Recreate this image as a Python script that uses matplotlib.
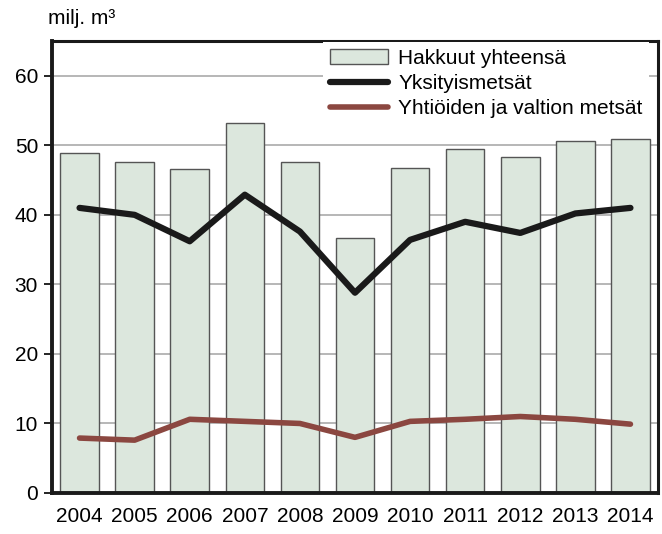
import numpy as np
import matplotlib.pyplot as plt

plt.rcParams['font.family'] = ['Liberation Sans', 'DejaVu Sans']

years = ['2004', '2005', '2006', '2007', '2008', '2009',
         '2010', '2011', '2012', '2013', '2014']
total = [48.9, 47.6, 46.6, 53.2, 47.6, 36.7, 46.8, 49.5, 48.3, 50.6, 50.9]
private = [41.0, 40.0, 36.2, 42.9, 37.6, 28.8, 36.4, 39.0, 37.4, 40.2, 41.0]
company_state = [7.9, 7.6, 10.6, 10.3, 10.0, 8.0, 10.3, 10.6, 11.0, 10.6, 9.9]

fig = plt.figure(figsize=(6.62, 5.34), dpi=100)
ax = fig.add_axes([52 / 662, 41 / 534, 606 / 662, 452 / 534])

x = np.arange(len(years))
bars = ax.bar(x, total, width=0.7, color='#dce7dd', edgecolor='#555555',
              linewidth=1.0, label='Hakkuut yhteensä', zorder=2)
l1, = ax.plot(x, private, color='#1a1a1a', lw=4.5, solid_capstyle='round',
              label='Yksityismetsät', zorder=3)
l2, = ax.plot(x, company_state, color='#8b4740', lw=4.0, solid_capstyle='round',
              label='Yhtiöiden ja valtion metsät', zorder=3)

ax.set_xlim(-0.5, len(years) - 0.5)
ax.set_ylim(0, 65)
ax.set_yticks(range(0, 61, 10))
ax.set_xticks(x)
ax.set_xticklabels(years)
ax.tick_params(axis='y', length=6, width=1.2, direction='out', labelsize=15, pad=4)
ax.tick_params(axis='x', length=0, labelsize=15, pad=10)
ax.yaxis.grid(True, color='#aaaaaa', lw=1.2, zorder=0)
ax.set_axisbelow(True)
for side in ['left', 'bottom']:
    ax.spines[side].set_linewidth(2.8)
for side in ['top', 'right']:
    ax.spines[side].set_linewidth(2.2)
for s in ax.spines.values():
    s.set_color('#1a1a1a')

leg = ax.legend([bars, l1, l2], ['Hakkuut yhteensä', 'Yksityismetsät',
                                 'Yhtiöiden ja valtion metsät'],
                loc='upper right', bbox_to_anchor=(0.985, 0.997), fontsize=15,
                frameon=True, fancybox=False, borderaxespad=0,
                handlelength=2.8, handleheight=0.7, labelspacing=0.3,
                borderpad=0.3, handletextpad=0.5)
leg.get_frame().set_edgecolor('none')
leg.get_frame().set_facecolor('white')
leg.get_frame().set_alpha(1)

fig.text(48 / 662, 1 - 18 / 534, 'milj. m³', fontsize=15, va='center', ha='left')

fig.savefig('out.png', dpi=100)
